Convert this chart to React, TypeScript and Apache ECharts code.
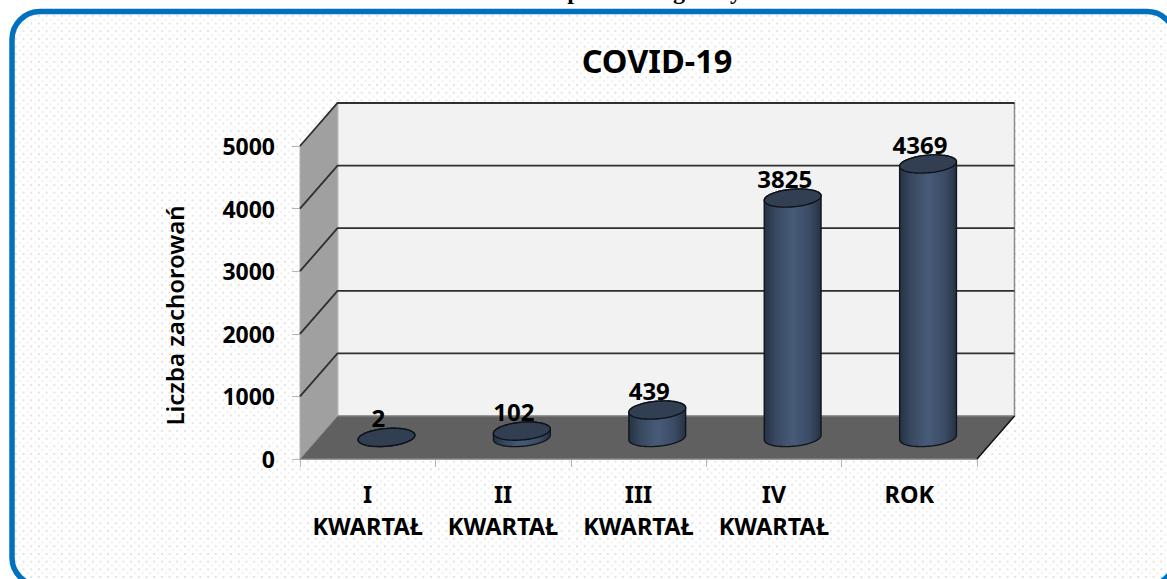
import React, { useEffect, useRef } from "react";
import * as echarts from "echarts";

const categories = ["I\nKWARTAŁ", "II\nKWARTAŁ", "III\nKWARTAŁ", "IV\nKWARTAŁ", "ROK"];
const cases = [2, 102, 439, 3825, 4369];
const yTicks = [0, 1000, 2000, 3000, 4000, 5000];
const chartTitle = "COVID-19";
const yName = "Liczba zachorowań";
const clippedHeadingLetters = [
  { text: "p", x: 574 },
  { text: "g", x: 679 },
  { text: "y", x: 736 },
];

const FONT = '"Noto Sans", sans-serif';
const DEPTH_X = 37.5;
const DEPTH_Y = 43;
const RX = 28.5;
const RY = 8.8;
const TILT = (5 * Math.PI) / 180;

function ellipsePoint(cx: number, cy: number, t: number) {
  const ex = RX * Math.cos(t);
  const ey = RY * Math.sin(t);
  return [
    cx + ex * Math.cos(TILT) + ey * Math.sin(TILT),
    cy - ex * Math.sin(TILT) + ey * Math.cos(TILT),
  ];
}

function renderWalls(_params: any, api: any) {
  const [, y0] = api.coord([0, 0]);
  const cs = _params.coordSys;
  const x1 = cs.x + cs.width;
  const yTop = cs.y;
  const left = cs.x;
  const children: any[] = [
    {
      type: "polygon",
      shape: { points: [[left + DEPTH_X, yTop - DEPTH_Y], [x1 + DEPTH_X, yTop - DEPTH_Y], [x1 + DEPTH_X, y0 - DEPTH_Y], [left + DEPTH_X, y0 - DEPTH_Y]] },
      style: { fill: "#F2F2F2", stroke: "#8c8c8c", lineWidth: 1.5 },
    },
    {
      type: "polygon",
      shape: { points: [[left, yTop], [left + DEPTH_X, yTop - DEPTH_Y], [left + DEPTH_X, y0 - DEPTH_Y], [left, y0]] },
      style: { fill: "#A0A0A0", stroke: "#b0b0b0", lineWidth: 1 },
    },
    {
      type: "polygon",
      shape: { points: [[left, y0], [left + DEPTH_X, y0 - DEPTH_Y], [x1 + DEPTH_X, y0 - DEPTH_Y], [x1, y0]] },
      style: { fill: "#606060", stroke: "#8c8c8c", lineWidth: 1 },
    },
    {
      type: "line",
      shape: { x1, y1: y0, x2: x1 + DEPTH_X, y2: y0 - DEPTH_Y },
      style: { stroke: "#111111", lineWidth: 1.5 },
    },
  ];
  yTicks.forEach((v) => {
    if (v === 0) return;
    const y = api.coord([0, v])[1];
    children.push({
      type: "polyline",
      shape: { points: [[left, y], [left + DEPTH_X, y - DEPTH_Y], [x1 + DEPTH_X, y - DEPTH_Y]] },
      style: { fill: "none", stroke: "#2f2f2f", lineWidth: 1.8 },
    });
  });
  return { type: "group", children, silent: true };
}

function renderCylinder(_params: any, api: any) {
  const idx = api.value(0);
  const value = api.value(1);
  const base = api.coord([idx, 0]);
  const top = api.coord([idx, value]);
  const cx = base[0] + DEPTH_X / 2;
  const cyBase = base[1] - DEPTH_Y / 2;
  const cyTop = top[1] - DEPTH_Y / 2;

  const bottomArc: number[][] = [];
  for (let i = 0; i <= 48; i++) bottomArc.push(ellipsePoint(cx, cyBase, (i / 48) * Math.PI));
  const topBack: number[][] = [];
  for (let i = 0; i <= 48; i++) topBack.push(ellipsePoint(cx, cyTop, Math.PI + (i / 48) * Math.PI));
  const side = [...bottomArc, ...topBack];
  const cap: number[][] = [];
  for (let i = 0; i < 96; i++) cap.push(ellipsePoint(cx, cyTop, (i / 96) * 2 * Math.PI));

  return {
    type: "group",
    children: [
      {
        type: "polygon",
        shape: { points: side },
        style: {
          fill: {
            type: "linear", x: 0, y: 0, x2: 1, y2: 0,
            colorStops: [
              { offset: 0, color: "#263244" },
              { offset: 0.2, color: "#38485f" },
              { offset: 0.5, color: "#475b78" },
              { offset: 0.8, color: "#3a4b64" },
              { offset: 1, color: "#263244" },
            ],
          },
          stroke: "#10151c",
          lineWidth: 1.4,
        },
      },
      {
        type: "polygon",
        shape: { points: cap },
        style: { fill: "#323f53", stroke: "#0d1218", lineWidth: 1.4 },
      },
      {
        type: "text",
        x: cx - 8,
        y: cyTop - 19.5,
        style: {
          text: String(value),
          font: `bold 24px ${FONT}`,
          fill: "#000000",
          align: "center",
          verticalAlign: "middle",
        },
      },
    ],
  };
}

export default function App() {
  const ref = useRef<HTMLDivElement>(null);

  useEffect(() => {
    const chart = echarts.init(ref.current!, undefined, { renderer: "svg" });
    chart.setOption({
      animation: false,
      backgroundColor: "transparent",
      title: {
        text: chartTitle,
        left: 652,
        top: 39,
        textAlign: "center",
        textStyle: { fontFamily: FONT, fontSize: 32.5, fontWeight: "bold", color: "#000000" },
      },
      grid: { left: 300, top: 146, width: 677, height: 313, containLabel: false },
      xAxis: {
        type: "category",
        data: categories,
        axisLine: { show: true, lineStyle: { color: "#8f8f8f", width: 1.5 } },
        axisTick: { show: true, length: 8, alignWithLabel: false, lineStyle: { color: "#b5b5b5" } },
        axisLabel: { color: "#000000", fontFamily: FONT, fontWeight: "bold", fontSize: 23.5, lineHeight: 32, margin: 19, interval: 0 },
        splitLine: { show: false },
      },
      yAxis: {
        type: "value",
        min: 0,
        max: 5000,
        interval: 1000,
        name: yName,
        nameLocation: "middle",
        nameGap: 114,
        nameTextStyle: { color: "#000000", fontFamily: FONT, fontWeight: 600, fontSize: 24, padding: [0, 26, 0, 0] },
        axisLine: { show: true, lineStyle: { color: "#b0b0b0" } },
        axisTick: { show: true, length: 8, lineStyle: { color: "#b5b5b5" } },
        axisLabel: { color: "#000000", fontFamily: FONT, fontWeight: "bold", fontSize: 23, margin: 25, lineHeight: 27, padding: [2, 0, 0, 0], formatter: (v: number) => String(v) },
        splitLine: { show: false },
      },
      graphic: [
        {
          type: "rect",
          x: 12,
          y: 11.5,
          shape: { x: 0, y: 0, width: 1163, height: 574, r: 28 },
          style: { fill: "none", stroke: "#0070C0", lineWidth: 5.5 },
          silent: true,
          z: 0,
        },
        ...clippedHeadingLetters.map((l) => ({
          type: "text",
          x: l.x,
          y: -21,
          style: { text: l.text, font: 'bold 24px "Liberation Serif", serif', fill: "#000000", align: "center", verticalAlign: "top" },
          silent: true,
        })),
      ],
      series: [
        {
          type: "custom",
          coordinateSystem: "cartesian2d",
          data: [[0, 0]],
          renderItem: renderWalls,
          silent: true,
          clip: false,
          z: 1,
          encode: { x: 0, y: 1 },
        },
        {
          type: "custom",
          coordinateSystem: "cartesian2d",
          data: cases.map((v, i) => [i, v]),
          renderItem: renderCylinder,
          silent: true,
          clip: false,
          z: 2,
          encode: { x: 0, y: 1 },
        },
      ],
    });
    return () => chart.dispose();
  }, []);

  return (
    <div style={{ position: "fixed", left: 0, top: 0, width: 1167, height: 579, background: "#ffffff", overflow: "hidden" }}>
      <div
        style={{
          position: "absolute",
          left: 12,
          top: 11.5,
          width: 1163,
          height: 574,
          borderRadius: 28,
          backgroundColor: "#ffffff",
          backgroundImage:
            "radial-gradient(circle, #e2e2e2 1.1px, rgba(255,255,255,0) 1.5px), radial-gradient(circle, #f0f0f0 1px, rgba(255,255,255,0) 1.4px)",
          backgroundSize: "7.7px 7.7px, 7.7px 7.7px",
          backgroundPosition: "0 0, 3.85px 3.85px",
        }}
      />
      <div ref={ref} style={{ position: "absolute", left: 0, top: 0, width: 1167, height: 579 }} />
    </div>
  );
}
